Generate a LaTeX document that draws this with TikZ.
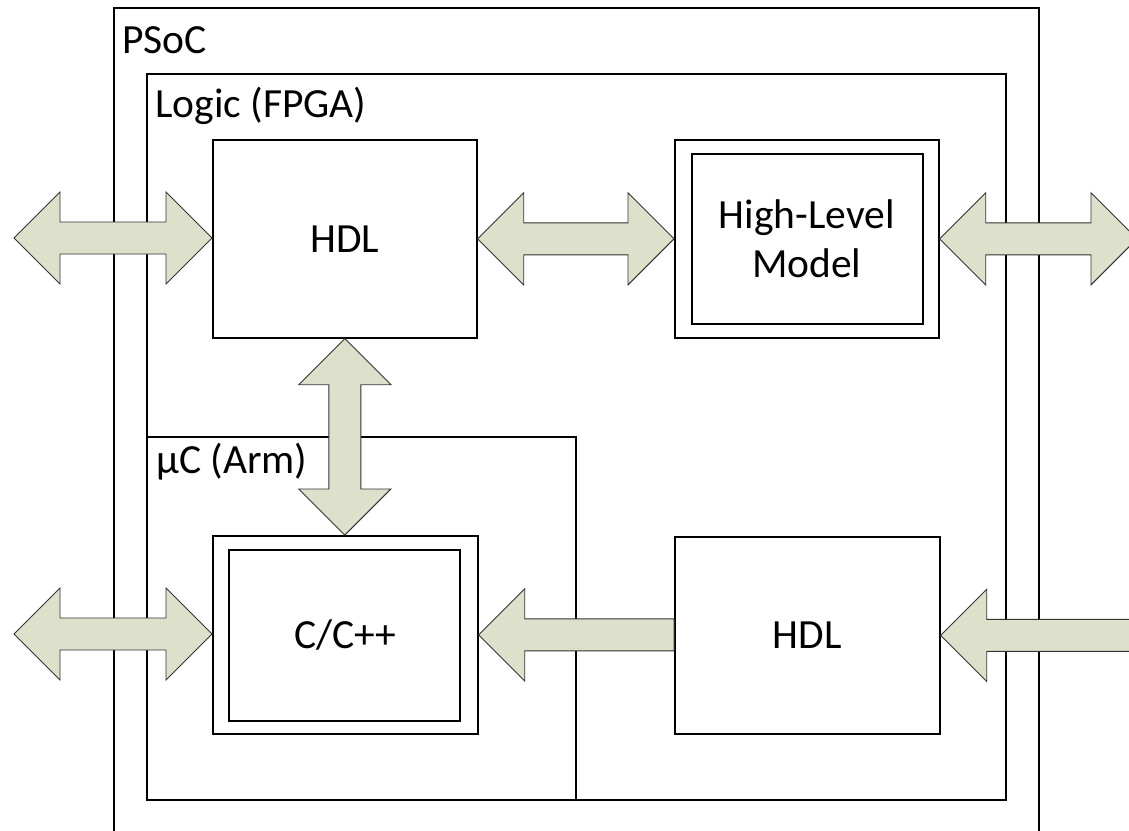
\documentclass[tikz,border=0pt]{standalone}
\usepackage{fontspec}
\setmainfont{Carlito}
\usetikzlibrary{calc}
\definecolor{arrfill}{RGB}{221,225,204}
\newcommand\dblH[2]{\draw[arr] let \p1=(#1),\p2=(#2) in
 (\x1,\y1) -- (\x1+46pt,\y1+46pt) -- (\x1+46pt,\y1+16pt) -- (\x2-46pt,\y1+16pt) -- (\x2-46pt,\y1+46pt) -- (\x2,\y1) -- (\x2-46pt,\y1-46pt) -- (\x2-46pt,\y1-16pt) -- (\x1+46pt,\y1-16pt) -- (\x1+46pt,\y1-46pt) -- cycle;}
\newcommand\dblV[2]{\draw[arr] let \p1=(#1),\p2=(#2) in
 (\x1,\y1) -- (\x1+46pt,\y1-46pt) -- (\x1+16pt,\y1-46pt) -- (\x1+16pt,\y2+46pt) -- (\x1+46pt,\y2+46pt) -- (\x1,\y2) -- (\x1-46pt,\y2+46pt) -- (\x1-16pt,\y2+46pt) -- (\x1-16pt,\y1-46pt) -- (\x1-46pt,\y1-46pt) -- cycle;}
\newcommand\sglL[2]{\draw[arr] let \p1=(#1),\p2=(#2) in
 (\x1,\y1) -- (\x1+46pt,\y1+46pt) -- (\x1+46pt,\y1+16pt) -- (\x2,\y1+16pt) -- (\x2,\y1-16pt) -- (\x1+46pt,\y1-16pt) -- (\x1+46pt,\y1-46pt) -- cycle;}
\begin{document}
\begin{tikzpicture}[x=1pt,y=-1pt,
 box/.style={draw=black,line width=1.7pt,inner sep=0pt,anchor=north west},
 arr/.style={draw=black!80,line width=0.9pt,fill=arrfill,line join=miter},
 lbl/.style={inner sep=0pt,anchor=base west,font=\fontsize{41.5}{49}\selectfont},
 txt/.style={inner sep=0pt,align=center,font=\fontsize{41.5}{49}\selectfont}]
\useasboundingbox[fill=white] (0,0) rectangle (1129,830);
% containers
\node[box,minimum width=925pt,minimum height=900pt] (psoc) at (113,7) {};
\node[box,minimum width=859pt,minimum height=726pt] (logic) at (146,73) {};
\node[box,minimum width=429pt,minimum height=363pt] (uc) at (146,436) {};
% blocks
\node[box,minimum width=264pt,minimum height=198pt] (hdl1) at (212,139) {};
\node[box,minimum width=264pt,minimum height=198pt] (hlm) at (674,139) {};
\node[box,minimum width=231pt,minimum height=170pt] (hlmin) at (691,153) {};
\node[box,minimum width=265pt,minimum height=198pt] (cpp) at (212,535) {};
\node[box,minimum width=231pt,minimum height=171pt] (cppin) at (228,549) {};
\node[box,minimum width=265pt,minimum height=197pt] (hdl2) at (674,536) {};
% labels
\node[lbl] (lpsoc) at (122,53) {PSoC};
\node[lbl] (llogic) at (155,117) {Logic (FPGA)};
\node[lbl] (luc) at (156,473) {µC (Arm)};
\node[txt] (thdl1) at (hdl1.center) {HDL};
\node[txt] (thlm) at (hlm.center) {High-Level\\Model};
\node[txt] (tcpp) at (cpp.center) {C/C++};
\node[txt] (thdl2) at (hdl2.center) {HDL};
% free ends
\coordinate (inL1) at (14,238);
\coordinate (outR1) at (1137,238);
\coordinate (inL2) at (14,634);
\coordinate (inR2) at (1140,634);
% arrows
\dblH{inL1}{hdl1.west}
\dblH{hdl1.east}{hlm.west}
\dblH{hlm.east}{outR1}
\dblV{hdl1.south}{cpp.north}
\dblH{inL2}{cpp.west}
\sglL{cpp.east}{hdl2.west}
\sglL{hdl2.east}{inR2}
\end{tikzpicture}
\end{document}
